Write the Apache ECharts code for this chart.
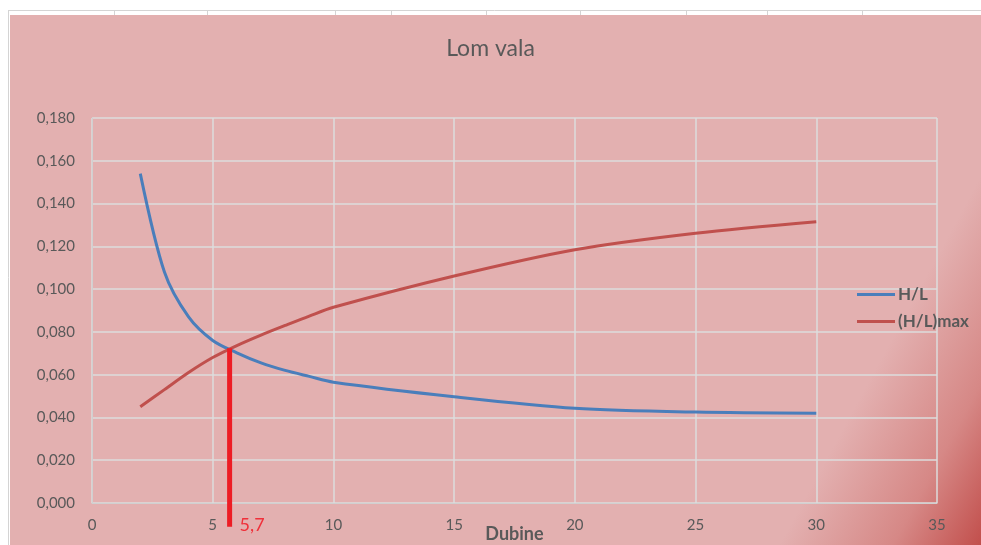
<!DOCTYPE html>
<html>
<head>
<meta charset="utf-8">
<script src="https://cdn.jsdelivr.net/npm/echarts@6/dist/echarts.min.js"></script>
<style>
  html, body { margin: 0; padding: 0; background: #fff; }
  #main { width: 981px; height: 545px; }
</style>
</head>
<body>
<div id="main"></div>
<script>
// dubine (depth) and the two ratios
var depths = [2, 3, 4, 5, 6, 7, 8, 9, 10, 15, 20, 25, 30];
var hl = [0.154, 0.108, 0.087, 0.076, 0.0702, 0.0655, 0.062, 0.0592, 0.0565, 0.0497, 0.0443, 0.0425, 0.042];
var hlMax = [0.045, 0.053, 0.061, 0.068, 0.0736, 0.0785, 0.083, 0.0874, 0.0915, 0.1061, 0.1184, 0.1261, 0.1315];

// break point marker
var markX = 5.7;
var markTop = 0.0723;
var markBottom = -0.0111;
var markText = '5,7';

// spreadsheet column separators at the top of the screenshot
var colEdges = [114, 207, 335, 391, 486, 580, 686, 767, 862];

function pairs(xs, ys) {
    var out = [];
    for (var i = 0; i < xs.length; i++) out.push([xs[i], ys[i]]);
    return out;
}

var bg = [
    {
        type: 'rect', z: -10, silent: true,
        shape: { x: 10, y: 15, width: 971, height: 530 },
        style: {
            fill: new echarts.graphic.LinearGradient(0, 0, 1, 1, [
                { offset: 0, color: '#E3B0B0' },
                { offset: 0.84, color: '#E3B0B0' },
                { offset: 0.93, color: '#D68886' },
                { offset: 1, color: '#C24F4C' }
            ])
        }
    },
    { type: 'line', z: -9, silent: true, shape: { x1: 8, y1: 10.5, x2: 981, y2: 10.5 }, style: { stroke: '#D4D4D4', lineWidth: 1 } },
    { type: 'line', z: -9, silent: true, shape: { x1: 8.5, y1: 10, x2: 8.5, y2: 545 }, style: { stroke: '#D4D4D4', lineWidth: 1 } }
];
colEdges.forEach(function (x) {
    bg.push({ type: 'line', z: -9, silent: true, shape: { x1: x + 0.5, y1: 10, x2: x + 0.5, y2: 15 }, style: { stroke: '#D4D4D4', lineWidth: 1 } });
});

var myChart = echarts.init(document.getElementById('main'));
myChart.setOption({
    animation: false,
    backgroundColor: '#fff',
    textStyle: { fontFamily: 'Lato' },
    graphic: bg,
    title: {
        text: 'Lom vala',
        left: 'center',
        top: 32,
        textStyle: { color: '#595959', fontSize: 23, fontWeight: 'normal', fontFamily: 'Lato' }
    },
    legend: {
        orient: 'vertical',
        left: 852,
        top: 281,
        icon: 'rect',
        itemWidth: 38,
        itemHeight: 3,
        itemGap: 10,
        data: ['H/L', '(H/L)max'],
        textStyle: { color: '#595959', fontSize: 17, fontWeight: 'bold', padding: [0, 0, 0, -2] }
    },
    grid: { left: 92, right: 44, top: 118, bottom: 42, containLabel: false, outerBoundsMode: 'none' },
    xAxis: {
        type: 'value',
        min: 0,
        max: 35,
        interval: 5,
        name: 'Dubine',
        nameLocation: 'middle',
        nameGap: 22,
        nameMoveOverlap: false,
        nameTextStyle: { color: '#595959', fontSize: 18, fontWeight: 'bold' },
        axisLine: { show: true, lineStyle: { color: '#D0D0D0', width: 1 } },
        axisTick: { show: false },
        axisLabel: { color: '#595959', fontSize: 15, margin: 15 },
        splitLine: { show: true, lineStyle: { color: '#DCDCDC', width: 1.5 } }
    },
    yAxis: {
        type: 'value',
        min: 0,
        max: 0.18,
        interval: 0.02,
        axisLine: { show: true, lineStyle: { color: '#D0D0D0', width: 1 } },
        axisTick: { show: false },
        axisLabel: {
            color: '#595959',
            fontSize: 15,
            margin: 17,
            formatter: function (v) { return v.toFixed(3).replace('.', ','); }
        },
        splitLine: { show: true, lineStyle: { color: '#DCDCDC', width: 1.5 } }
    },
    series: [
        {
            name: 'H/L',
            type: 'line',
            smooth: 0.3,
            symbol: 'none',
            color: '#4A7EBB',
            lineStyle: { width: 3, color: '#4A7EBB' },
            data: pairs(depths, hl)
        },
        {
            name: '(H/L)max',
            type: 'line',
            smooth: 0.3,
            symbol: 'none',
            color: '#C0504D',
            lineStyle: { width: 3, color: '#C0504D' },
            data: pairs(depths, hlMax)
        },
        {
            name: 'marker',
            type: 'line',
            clip: false,
            symbol: 'circle',
            symbolSize: 0,
            showSymbol: true,
            z: 5,
            lineStyle: { width: 5, color: '#ED1C24' },
            itemStyle: { color: '#ED1C24' },
            data: [
                [markX, markTop],
                {
                    value: [markX, markBottom],
                    label: {
                        show: true,
                        position: 'right',
                        distance: 10,
                        offset: [0, -2],
                        formatter: markText,
                        color: '#F0303A',
                        fontSize: 18,
                        fontFamily: 'Lato'
                    }
                }
            ]
        }
    ]
});
</script>
</body>
</html>
